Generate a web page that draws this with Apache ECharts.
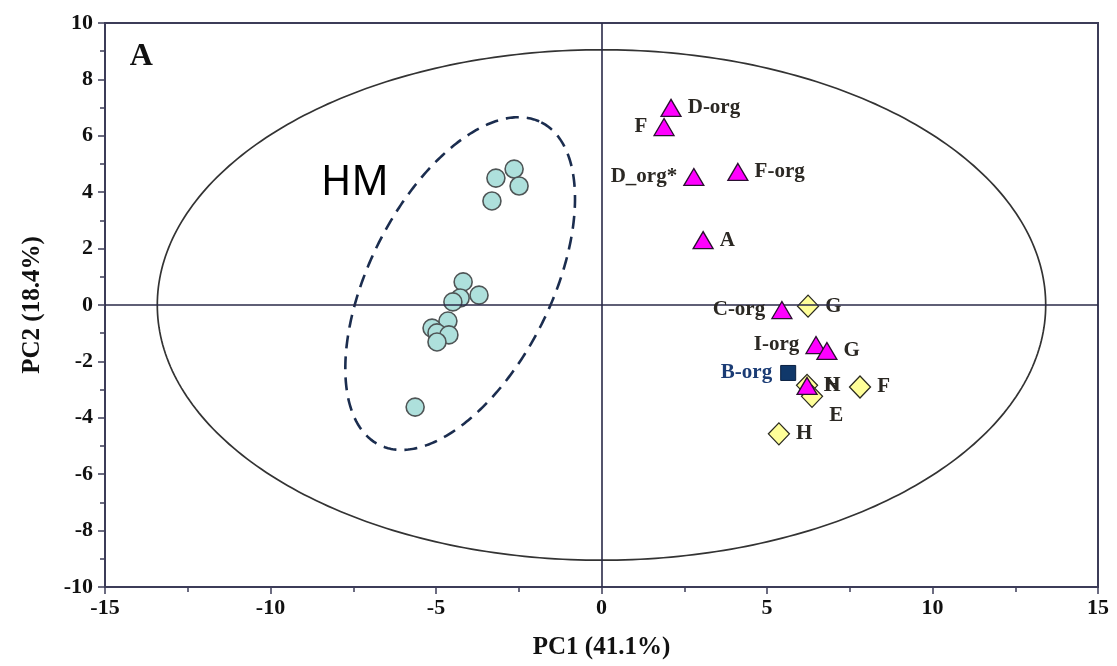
<!DOCTYPE html>
<html>
<head>
<meta charset="utf-8">
<script src="https://cdn.jsdelivr.net/npm/echarts@6/dist/echarts.min.js"></script>
<style>html,body{margin:0;padding:0;background:#fff;}#c{width:1117px;height:666px;}</style>
</head>
<body>
<div id="c"></div>
<script>
// ---- data ----
const xTicks = [-15, -10, -5, 0, 5, 10, 15];
const yTicks = [-10, -8, -6, -4, -2, 0, 2, 4, 6, 8, 10];

const hmX = [-3.19, -2.64, -2.49, -3.31, -4.18, -3.70, -4.27, -4.49, -4.64, -5.12, -4.97, -4.61, -4.97, -5.63];
const hmY = [4.50, 4.82, 4.22, 3.69, 0.82, 0.35, 0.25, 0.11, -0.57, -0.82, -0.99, -1.06, -1.31, -3.62];

const triNames = ['D-org', 'F', 'D_org*', 'F-org', 'A', 'C-org', 'I-org', 'G', 'N'];
const triX = [2.10, 1.89, 2.79, 4.12, 3.07, 5.45, 6.48, 6.81, 6.21];
const triY = [6.99, 6.31, 4.54, 4.72, 2.30, -0.18, -1.42, -1.63, -2.87];

const diaNames = ['G', 'H', 'E', 'F', 'H'];
const diaX = [6.24, 6.21, 6.36, 7.81, 5.36];
const diaY = [-0.04, -2.85, -3.24, -2.91, -4.57];

const sqNames = ['B-org'];
const sqX = [5.64];
const sqY = [-2.41];

// confidence ellipse: [cx, cy, rx, ry]
const bigEllipse = [0, 0, 13.42, 9.05];
// HM group ellipse: [cx, cy, semi-major (y units), semi-minor (x units), tilt deg]
const hmEllipse = [-4.27, 0.76, 6.4, 2.75, 26.7];

// ---- label placement ----
const leftLabels = {'F': 1, 'D_org*': 1, 'C-org': 1, 'I-org': 1};

const labelFont = {fontFamily: 'Liberation Serif', fontWeight: 'bold', fontSize: 21, color: '#2b2823', opacity: 1};

function mk(names, xs, ys, idxLeft) {
  return names.map((n, i) => {
    const left = idxLeft && leftLabels[n];
    return {value: [xs[i], ys[i]], name: n,
      label: {show: true, formatter: n, position: left ? 'left' : 'right', distance: 6}};
  });
}

const triData = mk(triNames, triX, triY, true);
const diaData = mk(diaNames, diaX, diaY, false);
// E label sits below-right
diaData[2].label = {show: true, formatter: 'E', position: 'right', distance: 6, offset: [0, 19]};
const sqData = mk(sqNames, sqX, sqY, false);
sqData[0].label = {show: true, formatter: 'B-org', position: 'left', distance: 8, color: '#1b3c75'};

const chart = echarts.init(document.getElementById('c'), null, {renderer: 'canvas'});

function bigEllipseRender(params, api) {
  const cx = api.value(0), cy = api.value(1), rx = api.value(2), ry = api.value(3);
  const pts = [];
  for (let k = 0; k <= 360; k++) {
    const t = k * Math.PI / 180;
    pts.push(api.coord([cx + rx * Math.cos(t), cy + ry * Math.sin(t)]));
  }
  return {type: 'polyline', shape: {points: pts},
    style: {stroke: '#333333', lineWidth: 1.7, fill: null}};
}

function hmEllipseRender(params, api) {
  const c = api.coord([api.value(0), api.value(1)]);
  const s = api.size([1, 1]);
  const a = api.value(2) * s[1], b = api.value(3) * s[0];
  const phi = api.value(4) * Math.PI / 180;
  const mj = [Math.sin(phi), -Math.cos(phi)], mn = [Math.cos(phi), Math.sin(phi)];
  const pts = [];
  for (let k = 0; k <= 360; k++) {
    const t = k * Math.PI / 180;
    const u = a * Math.cos(t), v = b * Math.sin(t);
    pts.push([c[0] + u * mj[0] + v * mn[0], c[1] + u * mj[1] + v * mn[1]]);
  }
  return {type: 'polyline', shape: {points: pts},
    style: {stroke: '#1b2d4f', lineWidth: 2.6, fill: null, lineDash: [13, 8]}};
}

const axisCommon = {
  axisLine: {show: true, onZero: false, lineStyle: {color: '#3c3c58', width: 2}},
  axisTick: {show: true, inside: false, length: 7, lineStyle: {color: '#3c3c58', width: 1.5}},
  minorTick: {show: true, splitNumber: 2, length: 5, lineStyle: {color: '#3c3c58', width: 1.5}},
  splitLine: {show: false},
  axisLabel: {fontFamily: 'Liberation Serif', fontWeight: 'bold', fontSize: 22, color: '#111'},
  nameTextStyle: {fontFamily: 'Liberation Serif', fontWeight: 'bold', fontSize: 25, color: '#111'}
};

chart.setOption({
  animation: false,
  backgroundColor: '#fff',
  grid: {left: 105, right: 19, top: 23, bottom: 79, show: true, borderColor: '#3c3c58', borderWidth: 2},
  xAxis: Object.assign({}, axisCommon, {
    type: 'value', min: xTicks[0], max: xTicks[xTicks.length - 1], interval: 5,
    name: 'PC1 (41.1%)', nameLocation: 'middle', nameGap: 48,
    axisLabel: Object.assign({}, axisCommon.axisLabel, {margin: 10})
  }),
  yAxis: Object.assign({}, axisCommon, {
    type: 'value', min: yTicks[0], max: yTicks[yTicks.length - 1], interval: 2,
    name: 'PC2 (18.4%)', nameLocation: 'middle', nameGap: 60, nameRotate: 90,
    axisLabel: Object.assign({}, axisCommon.axisLabel, {margin: 12})
  }),
  series: [
    {
      type: 'custom', renderItem: bigEllipseRender, data: [bigEllipse], silent: true, z: 1,
      markLine: {
        silent: true, symbol: 'none', label: {show: false},
        lineStyle: {color: '#2a2a48', width: 1.6, type: 'solid'},
        data: [{xAxis: 0}, {yAxis: 0}]
      }
    },
    {type: 'custom', renderItem: hmEllipseRender, data: [hmEllipse], silent: true, z: 2},
    {
      type: 'scatter', symbol: 'circle', symbolSize: 18, z: 3,
      itemStyle: {color: '#aee0dc', borderColor: '#4f5556', borderWidth: 1.6, opacity: 1},
      data: hmX.map((x, i) => [x, hmY[i]])
    },
    {
      type: 'scatter', symbol: 'diamond', symbolSize: [21, 22], z: 4,
      itemStyle: {color: '#ffff99', borderColor: '#2a2a20', borderWidth: 1.3, opacity: 1},
      label: labelFont, data: diaData
    },
    {
      type: 'scatter', symbol: 'rect', symbolSize: 15, z: 4,
      itemStyle: {color: '#10386a', borderColor: '#0a2040', borderWidth: 1, opacity: 1},
      label: labelFont, data: sqData
    },
    {
      type: 'scatter', symbol: 'triangle', symbolSize: [20, 17], z: 5,
      itemStyle: {color: '#ff00ff', borderColor: '#2a1030', borderWidth: 1.3, opacity: 1},
      label: labelFont, data: triData
    },
    {
      type: 'scatter', symbolSize: 0, z: 6, silent: true,
      itemStyle: {opacity: 1},
      data: [
        {value: [-7.45, 4.3], label: {show: true, position: 'inside', formatter: 'HM',
          fontFamily: 'Noto Sans', fontSize: 41, color: '#000'}},
        {value: [-13.9, 8.8], label: {show: true, position: 'inside', formatter: 'A',
          fontFamily: 'Liberation Serif', fontWeight: 'bold', fontSize: 32, color: '#111'}}
      ]
    }
  ]
});
</script>
</body>
</html>
